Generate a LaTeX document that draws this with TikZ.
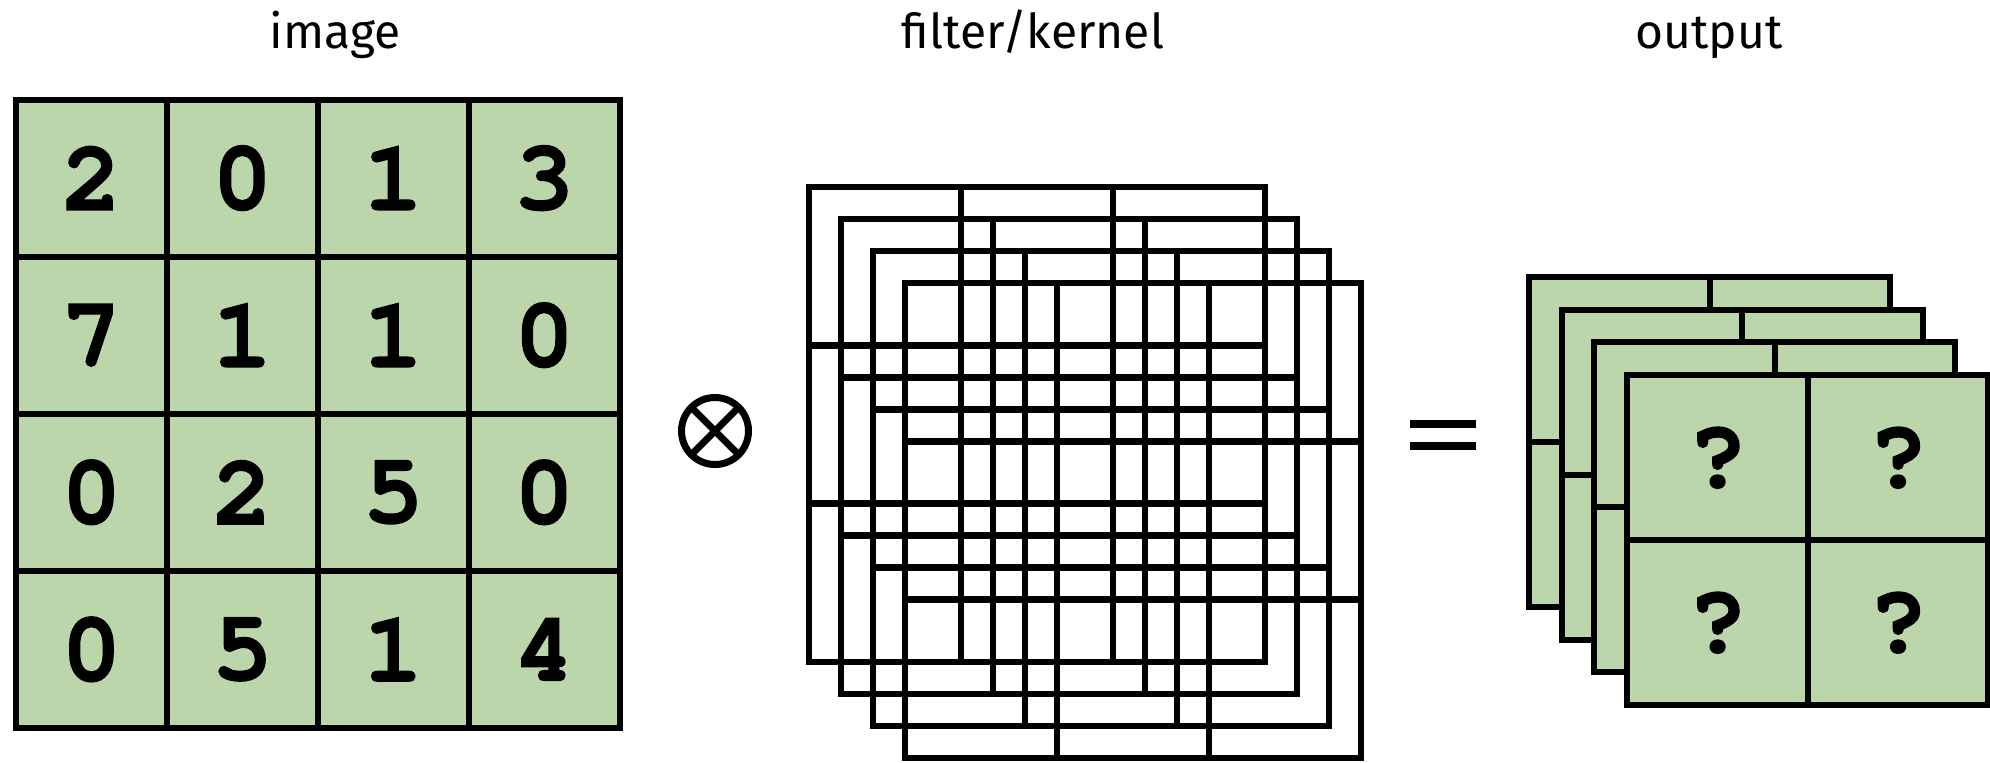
\documentclass[tikz,border=0pt]{standalone}
\usepackage{fontspec}
\setmainfont{Fira Sans}
\newfontfamily\digitfont{texgyrecursor-bold.otf}[FakeBold=1.2]
\usetikzlibrary{positioning}
\definecolor{cellgreen}{HTML}{BCD6AC}

\begin{document}
\begin{tikzpicture}[
  x=0.5pt, y=-0.5pt,
  every node/.style={font=\fontsize{24}{28}\selectfont},
  title/.style={anchor=base},
  imgcell/.style={
    draw, fill=cellgreen, line width=3pt,
    minimum width=75.45pt, minimum height=78.55pt,
    inner sep=0pt, outer sep=0pt,
    font=\digitfont\fontsize{50}{50}\selectfont
  },
  fltcell/.style={
    draw, line width=3.2pt,
    minimum width=76pt, minimum height=79.15pt,
    inner sep=0pt, outer sep=0pt
  },
  outcell/.style={imgcell, minimum width=90.25pt, minimum height=82.5pt},
  opsign/.style={line width=3.5pt}
]
\useasboundingbox (0,0) rectangle (1990,762);

% titles
\node[title] (imgtitle) at (335,48) {image};
\node[title] (flttitle) at (1033,48) {filter/kernel};
\node[title] (outtitle) at (1709,48) {output};

% input image
\foreach \row [count=\r] in {{2,0,1,3},{7,1,1,0},{0,2,5,0},{0,5,1,4}}
  \foreach \val [count=\c] in \row
    \node[imgcell] (img-\r-\c) at ({16+150.9*(\c-0.5)}, {99.5+157.1*(\r-0.5)}) {\val};

% convolution sign
\node[circle, draw, opsign, minimum size=33.5pt, inner sep=0pt,
  path picture={
    \draw[opsign] (path picture bounding box.north west) -- (path picture bounding box.south east);
    \draw[opsign] (path picture bounding box.north east) -- (path picture bounding box.south west);
  }] (conv) at (715,431) {};

% stacked filters
\foreach \k in {0,...,3}
  \foreach \r in {1,2,3}
    \foreach \c in {1,2,3}
      \node[fltcell] (flt-\k-\r-\c) at ({809+32*\k+152*(\c-0.5)}, {187+32*\k+158.3*(\r-0.5)}) {};

% equals sign
\draw[line width=4pt] (1410,424) -- (1476,424) (1410,446) -- (1476,446);

% stacked outputs
\foreach \k in {0,...,3}
  \foreach \r in {1,2}
    \foreach \c in {1,2}
      \node[outcell] (out-\k-\r-\c) at ({1529+32.7*\k+180.5*(\c-0.5)}, {277+32.7*\k+165*(\r-0.5)}) {\ifnum\k=3 ?\fi};

\end{tikzpicture}
\end{document}
